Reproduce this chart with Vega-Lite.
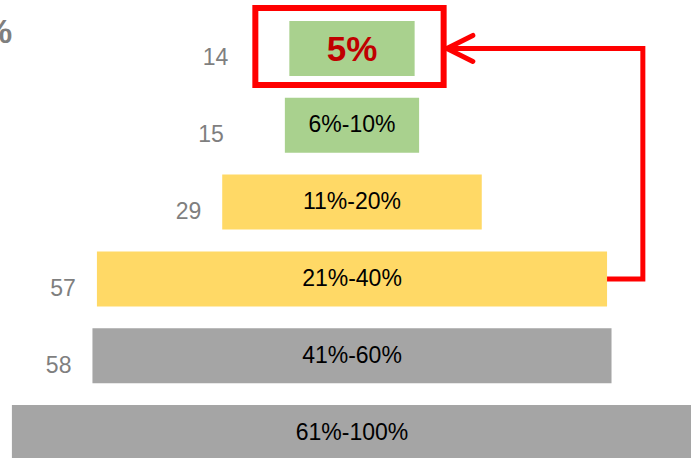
{
  "$schema": "https://vega.github.io/schema/vega-lite/v6.json",
  "width": 691,
  "height": 458,
  "autosize": {"type": "none"},
  "padding": 0,
  "background": "white",
  "config": {"view": {"stroke": null}, "font": "Liberation Sans"},
  "datasets": {
    "main": [
      {"cat": "5%", "value": 14, "tier": "low"},
      {"cat": "6%-10%", "value": 15, "tier": "low"},
      {"cat": "11%-20%", "value": 29, "tier": "mid"},
      {"cat": "21%-40%", "value": 57, "tier": "mid"},
      {"cat": "41%-60%", "value": 58, "tier": "high"},
      {"cat": "61%-100%", "value": 76, "tier": "high"}
    ],
    "arrow": [
      {"x": 66.5, "cat": "21%-40%", "step": 1},
      {"x": 70.5, "cat": "21%-40%", "step": 2},
      {"x": 70.5, "cat": "5%", "step": 3},
      {"x": 48.6, "cat": "5%", "step": 4}
    ],
    "head": [
      {"x": 48.6, "cat": "5%"}
    ],
    "note": [
      {"x": 0.05, "cat": "5%", "label": "%"}
    ]
  },
  "layer": [
    {
      "data": {"name": "main"},
      "transform": [{"stack": "value", "groupby": ["cat"], "offset": "center", "as": ["x0", "x1"]}],
      "layer": [
        {
          "mark": {"type": "bar"},
          "encoding": {
            "x": {"field": "x0", "type": "quantitative", "scale": {"domain": [-1.33, 75.88], "nice": false, "zero": false}, "axis": null},
            "x2": {"field": "x1"},
            "y": {"field": "cat", "type": "nominal", "sort": null, "axis": null, "scale": {"paddingInner": 0.284, "paddingOuter": 0.273, "range": [0, 481]}},
            "color": {"field": "tier", "type": "nominal", "legend": null, "scale": {"domain": ["low", "mid", "high"], "range": ["#A9D18E", "#FFD966", "#A5A5A5"]}}
          }
        },
        {
          "transform": [{"filter": "datum.cat !== '5%'"}],
          "mark": {"type": "text", "fontSize": 23, "color": "#000000", "baseline": "middle", "align": "center"},
          "encoding": {
            "x": {"datum": 38, "type": "quantitative"},
            "y": {"field": "cat", "type": "nominal", "sort": null},
            "text": {"field": "cat"}
          }
        },
        {
          "transform": [{"filter": "datum.cat === '5%'"}],
          "mark": {"type": "text", "fontSize": 35, "fontWeight": "bold", "color": "#C00000", "baseline": "middle", "align": "center", "dy": 2},
          "encoding": {
            "x": {"datum": 38, "type": "quantitative"},
            "y": {"field": "cat", "type": "nominal", "sort": null},
            "text": {"field": "cat"}
          }
        },
        {
          "transform": [{"filter": "datum.tier === 'low'"}],
          "mark": {"type": "text", "fontSize": 23, "color": "#7F7F7F", "baseline": "middle", "align": "right", "dx": -61, "dy": 10},
          "encoding": {
            "x": {"field": "x0", "type": "quantitative"},
            "y": {"field": "cat", "type": "nominal", "sort": null},
            "text": {"field": "value", "type": "quantitative"}
          }
        },
        {
          "transform": [{"filter": "datum.tier !== 'low' && datum.cat !== '61%-100%'"}],
          "mark": {"type": "text", "fontSize": 23, "color": "#7F7F7F", "baseline": "middle", "align": "right", "dx": -21, "dy": 10},
          "encoding": {
            "x": {"field": "x0", "type": "quantitative"},
            "y": {"field": "cat", "type": "nominal", "sort": null},
            "text": {"field": "value", "type": "quantitative"}
          }
        },
        {
          "transform": [{"filter": "datum.cat === '5%'"}],
          "mark": {"type": "bar", "height": 77, "fill": null, "fillOpacity": 0, "stroke": "#FF0000", "strokeWidth": 6, "xOffset": -34, "x2Offset": 29, "yOffset": -2},
          "encoding": {
            "x": {"field": "x0", "type": "quantitative"},
            "x2": {"field": "x1"},
            "y": {"field": "cat", "type": "nominal", "sort": null}
          }
        }
      ]
    },
    {
      "data": {"name": "arrow"},
      "mark": {"type": "line", "color": "#FF0000", "strokeWidth": 5, "strokeJoin": "miter"},
      "encoding": {
        "x": {"field": "x", "type": "quantitative"},
        "y": {"field": "cat", "type": "nominal", "sort": null},
        "order": {"field": "step", "type": "quantitative"}
      }
    },
    {
      "data": {"name": "head"},
      "mark": {"type": "point", "shape": "M2,-1L0,0L2,1", "size": 676, "filled": false, "stroke": "#FF0000", "strokeWidth": 5, "strokeCap": "round", "strokeJoin": "miter", "opacity": 1},
      "encoding": {
        "x": {"field": "x", "type": "quantitative"},
        "y": {"field": "cat", "type": "nominal", "sort": null}
      }
    },
    {
      "data": {"name": "note"},
      "mark": {"type": "text", "fontSize": 34, "fontWeight": "bold", "color": "#7F7F7F", "align": "right", "baseline": "alphabetic", "dy": -5},
      "encoding": {
        "x": {"field": "x", "type": "quantitative"},
        "y": {"field": "cat", "type": "nominal", "sort": null},
        "text": {"field": "label"}
      }
    }
  ]
}
